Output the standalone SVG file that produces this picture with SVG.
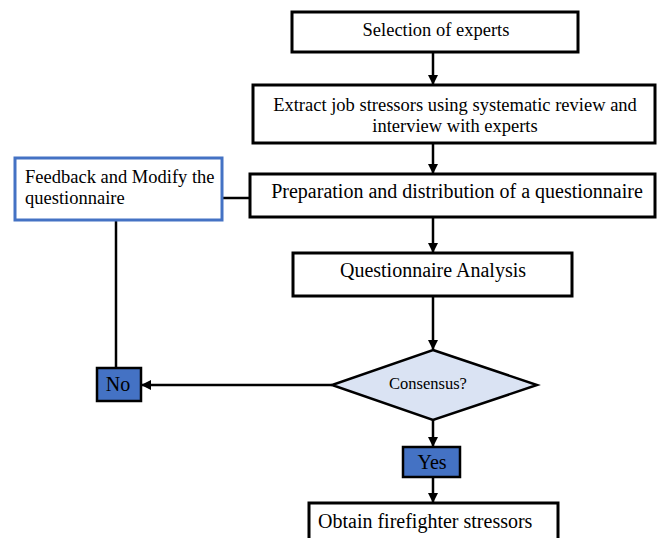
<svg xmlns="http://www.w3.org/2000/svg" width="659" height="538" viewBox="0 0 659 538">
<defs>
<marker id="arr" viewBox="0 0 10 10" refX="9" refY="5" markerWidth="4" markerHeight="4" orient="auto" markerUnits="strokeWidth">
<path d="M0,0 L10,5 L0,10 z" fill="#000"/>
</marker>
<style>
.box{fill:#fff;stroke:#000;stroke-width:3}
.fb{fill:#fff;stroke:#4472c4;stroke-width:3}
.lab{fill:#4472c4;stroke:#000;stroke-width:2.5}
.dia{fill:#dae3f3;stroke:#000;stroke-width:2.5}
.t{font-family:"Liberation Serif","Times New Roman",serif;font-size:18.5px;fill:#000}
.b{font-size:20px}
.c{text-anchor:middle}
.ln{fill:none;stroke:#000;stroke-width:2.5}
</style>
</defs>
<rect width="659" height="538" fill="#fff"/>
<g id="connectors">
<line class="ln" x1="433" y1="52" x2="433" y2="84" marker-end="url(#arr)"/>
<line class="ln" x1="433" y1="143" x2="433" y2="173" marker-end="url(#arr)"/>
<line class="ln" x1="433" y1="217" x2="433" y2="252" marker-end="url(#arr)"/>
<line class="ln" x1="433" y1="296" x2="433" y2="349" marker-end="url(#arr)"/>
<line class="ln" x1="332" y1="385" x2="142" y2="385" marker-end="url(#arr)"/>
<line class="ln" x1="116" y1="368" x2="116" y2="220"/>
<line class="ln" x1="222" y1="198" x2="250" y2="198"/>
<line class="ln" x1="433" y1="420" x2="433" y2="446" marker-end="url(#arr)"/>
<line class="ln" x1="433" y1="477" x2="433" y2="502" marker-end="url(#arr)"/>
</g>
<g id="selection">
<rect class="box" x="292" y="12" width="286" height="40"/>
<text class="t c" x="436" y="36">Selection of experts</text>
</g>
<g id="extract">
<rect class="box" x="253" y="85" width="402" height="58"/>
<text class="t c" x="455" y="111">Extract job stressors using systematic review and</text>
<text class="t c" x="455" y="132">interview with experts</text>
</g>
<g id="preparation">
<rect class="box" x="250" y="174" width="405" height="43"/>
<text class="t b c" x="457" y="198">Preparation and distribution of a questionnaire</text>
</g>
<g id="feedback">
<rect class="fb" x="15" y="158" width="207" height="62"/>
<text class="t" x="25" y="183">Feedback and Modify the</text>
<text class="t" x="25" y="204">questionnaire</text>
</g>
<g id="analysis">
<rect class="box" x="293" y="253" width="279" height="43"/>
<text class="t b c" x="433" y="277">Questionnaire Analysis</text>
</g>
<g id="consensus">
<polygon class="dia" points="433,350 537,385 433,420 332,385"/>
<text class="t c" x="428" y="389" style="font-size:16.5px">Consensus?</text>
</g>
<g id="no">
<rect class="lab" x="97" y="368" width="44" height="33"/>
<text class="t c" x="118" y="391" style="font-size:20px">No</text>
</g>
<g id="yes">
<rect class="lab" x="403" y="447" width="57" height="30"/>
<text class="t c" x="432" y="469" style="font-size:20px">Yes</text>
</g>
<g id="obtain">
<rect class="box" x="309" y="503" width="249" height="40"/>
<text class="t b" x="318" y="528">Obtain firefighter stressors</text>
</g>
</svg>
